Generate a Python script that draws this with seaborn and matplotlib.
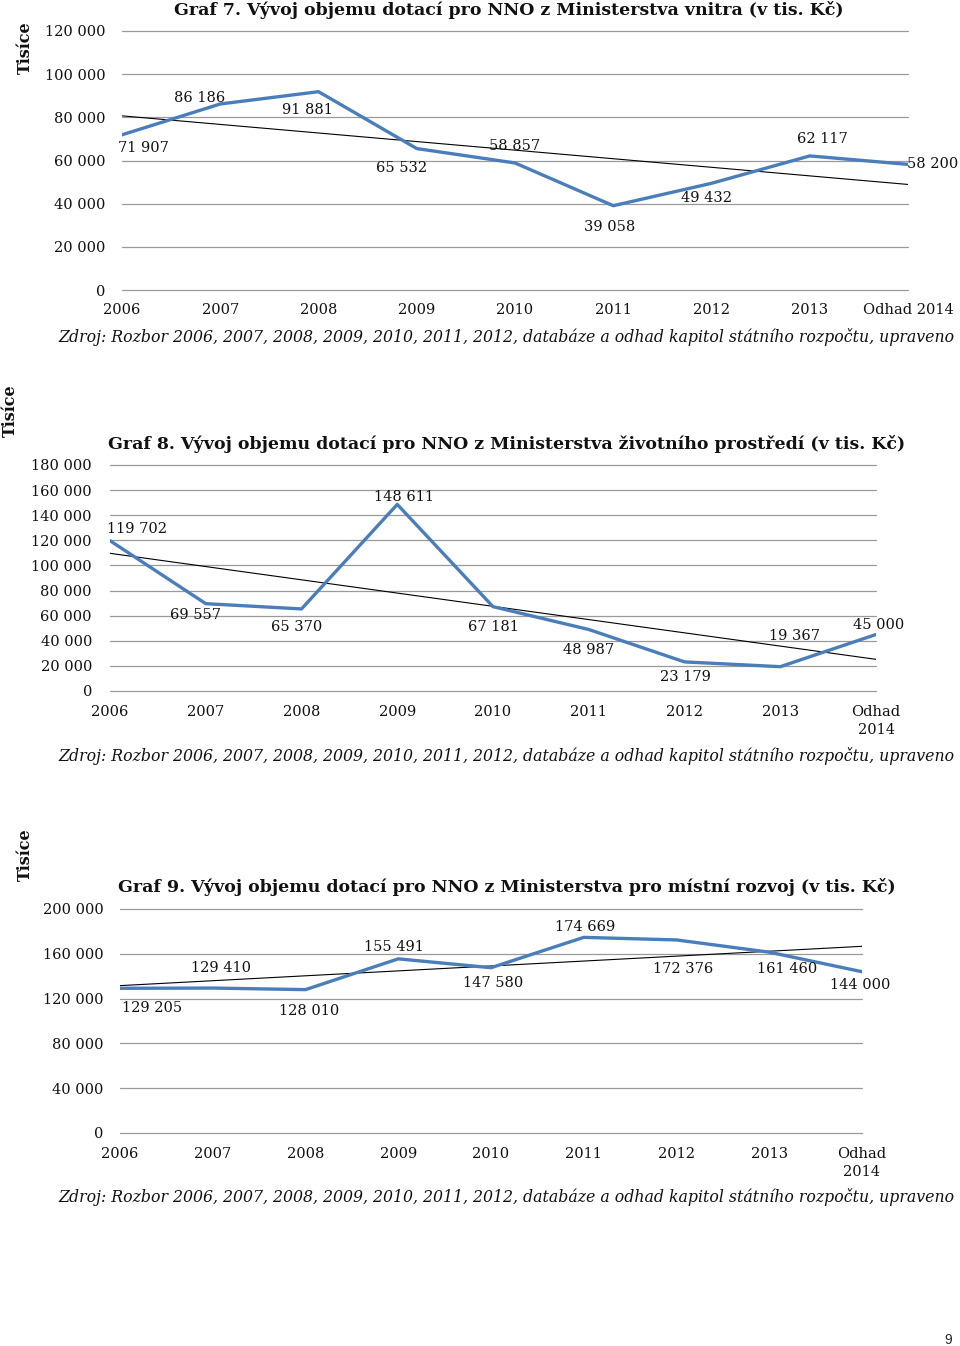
import numpy as np
import pandas as pd
import matplotlib
matplotlib.use("Agg")
import matplotlib.pyplot as plt
import seaborn as sns

# ---------------- data ----------------
years_1 = ["2006", "2007", "2008", "2009", "2010", "2011", "2012", "2013", "Odhad 2014"]
years_23 = ["2006", "2007", "2008", "2009", "2010", "2011", "2012", "2013", "Odhad\n2014"]

mv_values = [71907, 86186, 91881, 65532, 58857, 39058, 49432, 62117, 58200]
mzp_values = [119702, 69557, 65370, 148611, 67181, 48987, 23179, 19367, 45000]
mmr_values = [129205, 129410, 128010, 155491, 147580, 174669, 172376, 161460, 144000]

title_1 = "Graf 7. Vývoj objemu dotací pro NNO z Ministerstva vnitra (v tis. Kč)"
title_2 = "Graf 8. Vývoj objemu dotací pro NNO z Ministerstva životního prostředí (v tis. Kč)"
title_3 = "Graf 9. Vývoj objemu dotací pro NNO z Ministerstva pro místní rozvoj (v tis. Kč)"
source = "Zdroj: Rozbor 2006, 2007, 2008, 2009, 2010, 2011, 2012, databáze a odhad kapitol státního rozpočtu, upraveno"
ylabel = "Tisíce"

# ---------------- styling / layout ----------------
sns.set_theme(style="white")
plt.rcParams["font.family"] = ["DejaVu Serif"]

LINE_COLOR = "#4A7EBB"
GRID_COLOR = "#9a9a9a"
W, H = 960, 1346

fig = plt.figure(figsize=(W / 100, H / 100), dpi=100)


def fx(px):
    return px / W


def fy(py):
    return 1 - py / H


def fmt(v):
    return f"{int(v):,}".replace(",", " ")


def make_chart(rect_px, values, cats, ymax, ystep, offsets, ypad, xpad):
    l, r, t, b = rect_px
    ax = fig.add_axes([fx(l), fy(b), fx(r - l), (b - t) / H])
    df = pd.DataFrame({"x": np.arange(len(values)), "y": values})
    # trend line (linear fit)
    coef = np.polyfit(df["x"], df["y"], 1)
    df["trend"] = np.polyval(coef, df["x"])
    sns.lineplot(data=df, x="x", y="trend", ax=ax, color="black", lw=0.8, zorder=2)
    sns.lineplot(data=df, x="x", y="y", ax=ax, color=LINE_COLOR, lw=2.4, zorder=3)
    ax.set_xlim(0, len(values) - 1)
    ax.set_ylim(0, ymax)
    ticks = np.arange(0, ymax + 1, ystep)
    ax.set_yticks(ticks)
    ax.set_yticklabels([fmt(t) for t in ticks], fontsize=10.5, color="#111111")
    ax.set_xticks(df["x"])
    ax.set_xticklabels(cats, fontsize=10.5, linespacing=1.35, color="#111111")
    ax.tick_params(axis="y", length=0, pad=ypad)
    ax.tick_params(axis="x", length=0, pad=xpad)
    for s in ax.spines.values():
        s.set_visible(False)
    ax.grid(False)
    for t in ticks:
        ax.axhline(t, color=GRID_COLOR, lw=0.9, zorder=1, clip_on=False)
    ax.set_xlabel("")
    ax.set_ylabel("")
    for i, v in enumerate(values):
        dx, dy = offsets[i]
        ax.annotate(fmt(v), (i, v), xytext=(dx, dy), textcoords="offset pixels",
                    ha="center", va="center", fontsize=10.5, color="#111111", zorder=4)
    return ax


off_1 = [(21, -13), (-21, 6), (-11, -18), (-15, -19), (0, 17), (-4, -21), (-5, -15), (13, 17), (25, 0)]
off_2 = [(27, 12), (-10, -11), (-5, -18), (7, 7), (0, -20), (0, -21), (1, -15), (14, 31), (3, 9)]
off_3 = [(32, -20), (8, 20), (4, -21), (-4, 12), (2, -15), (1, 10), (7, -29), (18, -17), (-2, -13)]

make_chart((122, 908, 31, 290), mv_values, years_1, 120000, 20000, off_1, 12, 9)
make_chart((110, 876, 465, 691), mzp_values, years_23, 180000, 20000, off_2, 13, 10)
make_chart((120, 862, 909, 1133), mmr_values, years_23, 200000, 40000, off_3, 12, 10)

# titles
for txt, (x, y) in [(title_1, (509, 10)), (title_2, (507, 444)), (title_3, (507, 887))]:
    fig.text(fx(x), fy(y), txt, ha="center", va="center", fontsize=12.5, fontweight="bold",
             color="#111111")

# sources
for y in (337, 756, 1197):
    fig.text(fx(58), fy(y), source, ha="left", va="center", fontsize=11.35, fontstyle="italic",
             color="#111111")

# y labels
for x, y in [(25, 48), (10, 411), (25, 855)]:
    fig.text(fx(x), fy(y), ylabel, ha="center", va="center", rotation=90,
             fontsize=11.5, fontweight="bold", color="#111111")

fig.text(fx(948), fy(1340), "9", ha="center", va="center", fontsize=10, family="Liberation Sans")

fig.savefig("out.png", dpi=100)
